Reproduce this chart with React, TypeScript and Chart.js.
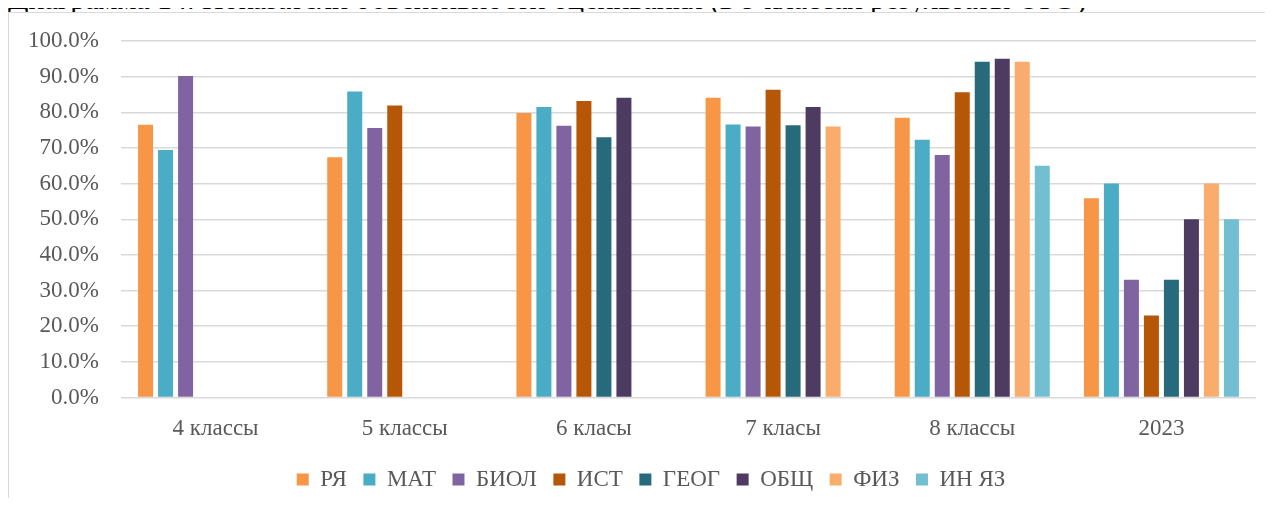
import { useEffect, useRef } from 'react';
import { Chart, registerables } from 'chart.js';

Chart.register(...registerables);

const categories = ['4 классы', '5 классы', '6 класы', '7 класы', '8 классы', '2023'];

const subjects = ['РЯ', 'МАТ', 'БИОЛ', 'ИСТ', 'ГЕОГ', 'ОБЩ', 'ФИЗ', 'ИН ЯЗ'];

// values in percent, null where a class had no work
const ryaValues = [76.5, 67.4, 79.8, 84.1, 78.5, 55.9];
const matValues = [69.4, 85.8, 81.5, 76.6, 72.3, 60.0];
const biolValues = [90.2, 75.6, 76.2, 76.0, 68.0, 33.0];
const istValues = [null, 81.9, 83.2, 86.3, 85.6, 23.0];
const geogValues = [null, null, 73.0, 76.4, 94.2, 33.0];
const obshValues = [null, null, 84.1, 81.5, 95.0, 50.0];
const fizValues = [null, null, null, 76.0, 94.2, 60.0];
const inYazValues = [null, null, null, null, 65.0, 50.0];

const colors = ['#F79646', '#4BACC6', '#8064A2', '#B65708', '#276A7C', '#4D3B62', '#F9AC6C', '#72BFD2'];

const yTicks = [0, 10, 20, 30, 40, 50, 60, 70, 80, 90, 100];

const textColor = '#595959';
const fontFamily = '"Liberation Serif", "Times New Roman", serif';

// the legend in the picture sits a bit right of the plot's centre
const legendShift = {
    id: 'legendShift',
    beforeDraw: (c: any) => {
        if (c.legend) c.legend.left = 46;
    },
};

export default function App() {
    const canvasRef = useRef<HTMLCanvasElement>(null);

    useEffect(() => {
        if (!canvasRef.current) return;
        const series = [ryaValues, matValues, biolValues, istValues, geogValues, obshValues, fizValues, inYazValues];

        const chart = new Chart(canvasRef.current, {
            type: 'bar',
            data: {
                labels: categories,
                datasets: series.map((values, i) => ({
                    label: subjects[i],
                    data: values,
                    backgroundColor: colors[i],
                    borderWidth: 0,
                    categoryPercentage: 0.846,
                    barPercentage: 0.75,
                })),
            },
            plugins: [legendShift],
            options: {
                animation: false,
                responsive: false,
                maintainAspectRatio: false,
                layout: { padding: { left: 0, right: 17, top: 41, bottom: 5 } },
                plugins: {
                    tooltip: { enabled: false },
                    legend: {
                        position: 'bottom',
                        labels: {
                            boxWidth: 12,
                            boxHeight: 12,
                            padding: 16.5,
                            color: textColor,
                            font: { family: fontFamily, size: 23 },
                        },
                    },
                },
                scales: {
                    x: {
                        grid: { display: false },
                        border: { display: false },
                        ticks: {
                            color: textColor,
                            padding: 10,
                            maxRotation: 0,
                            font: { family: fontFamily, size: 23 },
                        },
                        afterFit: (scale: any) => {
                            scale.height = 54;
                        },
                    },
                    y: {
                        min: 0,
                        max: 100,
                        afterBuildTicks: (scale: any) => {
                            scale.ticks = yTicks.map((v) => ({ value: v }));
                        },
                        afterFit: (scale: any) => {
                            scale.width = 121;
                        },
                        grid: { color: '#D9D9D9', lineWidth: 1.5, drawTicks: false },
                        border: { display: false },
                        ticks: {
                            color: textColor,
                            padding: 22,
                            font: { family: fontFamily, size: 23 },
                            callback: (v: any) => Number(v).toFixed(1) + '%',
                        },
                    },
                },
            },
        });

        return () => chart.destroy();
    }, []);

    return (
        <div style={{ position: 'relative', margin: -8, width: 1273, height: 506, overflow: 'hidden', background: '#fff' }}>
            <div
                style={{
                    position: 'absolute',
                    left: 8,
                    top: -16,
                    whiteSpace: 'nowrap',
                    fontFamily,
                    fontSize: 30,
                    lineHeight: '30px',
                    color: '#000',
                }}
            >
                Диаграмма 14. Показатели объективности оценивания (в 9 классах результаты ОГЭ)
            </div>
            <div
                style={{
                    position: 'absolute',
                    left: 8,
                    top: 12,
                    width: 1300,
                    height: 520,
                    border: '1.5px solid #D9D9D9',
                    background: '#fff',
                }}
            />
            <canvas ref={canvasRef} width={1273} height={506} style={{ position: 'absolute', left: 0, top: 0 }} />
        </div>
    );
}
